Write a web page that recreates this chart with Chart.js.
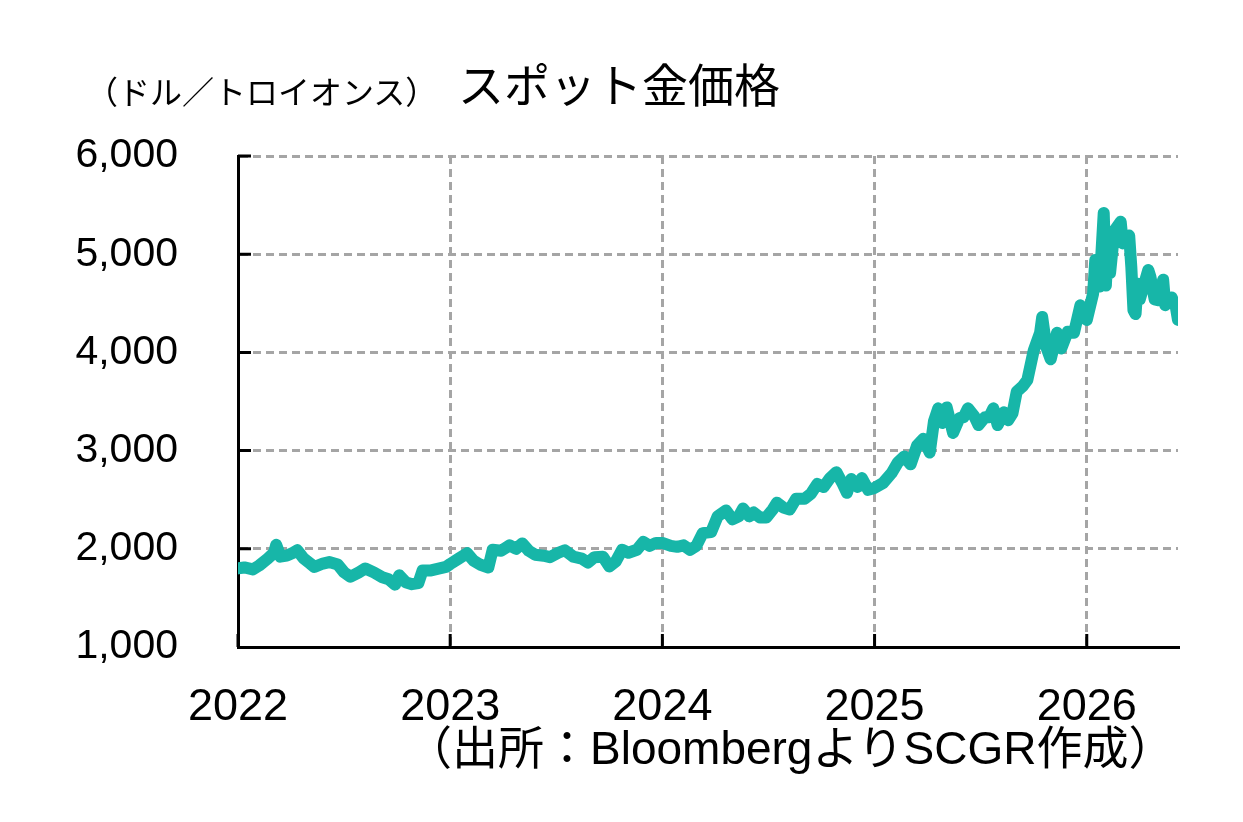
<!DOCTYPE html>
<html>
<head>
<meta charset="utf-8">
<script src="https://cdn.jsdelivr.net/npm/chart.js@4"></script>
<style>
  body { margin: 0; background: #fff; }
  #wrap { position: relative; width: 1243px; height: 822px; }
  .txt { position: absolute; white-space: nowrap; color: #000;
         font-family: "Liberation Sans", "Noto Sans CJK JP", sans-serif; line-height: 1; }
</style>
</head>
<body>
<div id="wrap">
  <canvas id="goldChart" width="1243" height="822"></canvas>
  <div class="txt" style="left:86px; top:77px; font-size:32px;">（ドル／トロイオンス）</div>
  <div class="txt" style="left:458px; top:63px; font-size:46px;">スポット金価格</div>
  <div class="txt" style="left:406px; top:725px; font-size:46px;">（出所：BloombergよりSCGR作成）</div>
</div>
<script>
// time as decimal year, price in USD per troy ounce
var dates = [
  2022.00, 2022.03, 2022.07, 2022.10, 2022.14, 2022.17, 2022.18, 2022.20, 2022.23, 2022.26,
  2022.28, 2022.31, 2022.34, 2022.36, 2022.40, 2022.43, 2022.47, 2022.50, 2022.53, 2022.57,
  2022.60, 2022.64, 2022.68, 2022.71, 2022.74, 2022.76, 2022.79, 2022.82, 2022.85, 2022.87,
  2022.91, 2022.95, 2022.98, 2023.00, 2023.04, 2023.08, 2023.11, 2023.14, 2023.18, 2023.20,
  2023.24, 2023.28, 2023.31, 2023.34, 2023.37, 2023.40, 2023.44, 2023.47, 2023.51, 2023.54,
  2023.58, 2023.62, 2023.65, 2023.68, 2023.72, 2023.75, 2023.78, 2023.81, 2023.84, 2023.88,
  2023.91, 2023.94, 2023.97, 2024.00, 2024.04, 2024.07, 2024.10, 2024.13, 2024.16, 2024.19,
  2024.23, 2024.26, 2024.30, 2024.33, 2024.36, 2024.38, 2024.41, 2024.43, 2024.46, 2024.49,
  2024.52, 2024.54, 2024.57, 2024.60, 2024.63, 2024.67, 2024.70, 2024.73, 2024.76, 2024.79,
  2024.82, 2024.85, 2024.87, 2024.89, 2024.92, 2024.94, 2024.97, 2025.00, 2025.04, 2025.08,
  2025.11, 2025.14, 2025.17, 2025.20, 2025.23, 2025.26, 2025.28, 2025.30, 2025.32, 2025.34,
  2025.37, 2025.40, 2025.42, 2025.44, 2025.47, 2025.49, 2025.52, 2025.54, 2025.56, 2025.58,
  2025.61, 2025.63, 2025.65, 2025.67, 2025.70, 2025.72, 2025.75, 2025.78, 2025.79, 2025.81,
  2025.83, 2025.86, 2025.88, 2025.91, 2025.94, 2025.97, 2026.00, 2026.03, 2026.04, 2026.06,
  2026.08, 2026.09, 2026.10, 2026.11, 2026.13, 2026.16, 2026.17, 2026.20, 2026.21, 2026.22,
  2026.23, 2026.24, 2026.25, 2026.29, 2026.30, 2026.32, 2026.34, 2026.36, 2026.37, 2026.40,
  2026.42, 2026.43
];
var prices = [
  1800, 1810, 1790, 1830, 1900, 1960, 2040, 1920, 1930, 1960,
  1985, 1900, 1850, 1815, 1850, 1865, 1840, 1760, 1715, 1760,
  1800, 1760, 1710, 1690, 1635, 1730, 1660, 1640, 1650, 1780,
  1780, 1800, 1815, 1845, 1900, 1955, 1880, 1840, 1810, 1990,
  1980, 2035, 2000, 2055, 1980, 1940, 1930, 1915, 1960, 1985,
  1920, 1900, 1860, 1915, 1920, 1820, 1870, 1990, 1960, 1990,
  2070, 2030, 2060, 2060, 2030, 2020, 2035, 1990, 2030, 2160,
  2170, 2330, 2390, 2300, 2330, 2410, 2330, 2370, 2320, 2320,
  2400, 2470, 2420, 2400, 2510, 2510, 2560, 2660, 2630, 2720,
  2780, 2660, 2570, 2710, 2630, 2720, 2600, 2620, 2670, 2770,
  2880, 2940, 2860, 3050, 3120, 2980, 3300, 3430, 3280, 3440,
  3180, 3330, 3340, 3430, 3350, 3260, 3340, 3340, 3430, 3260,
  3390, 3310, 3380, 3600, 3660, 3720, 4020, 4200, 4360, 4050,
  3930, 4200, 4040, 4210, 4200, 4480, 4330, 4600, 4940, 4670,
  5420, 4680, 5110, 4810, 5240, 5330, 5110, 5190, 4870, 4430,
  4390, 4700, 4540, 4840, 4770, 4540, 4530, 4740, 4480, 4560,
  4460, 4330
];
var yearTicks = [2022, 2023, 2024, 2025, 2026];

var points = dates.map(function (d, i) { return { x: d, y: prices[i] }; });

// short tick marks drawn inward from the axes
var innerTicks = {
    id: 'innerTicks',
    afterDraw: function (chart) {
        var c = chart.ctx, xs = chart.scales.x, ys = chart.scales.y, a = chart.chartArea;
        c.save();
        c.strokeStyle = '#000';
        c.lineWidth = 3;
        c.beginPath();
        yearTicks.forEach(function (t) {
            var px = xs.getPixelForValue(t);
            c.moveTo(px, a.bottom);
            c.lineTo(px, a.bottom - 13);
        });
        [2000, 3000, 4000, 5000, 6000].forEach(function (v) {
            var py = ys.getPixelForValue(v);
            c.moveTo(a.left, py);
            c.lineTo(a.left + 13, py);
        });
        c.stroke();
        c.restore();
    }
};

var ctx = document.getElementById('goldChart').getContext('2d');
var goldChart = new Chart(ctx, {
    type: 'line',
    data: {
        datasets: [{
            data: points,
            borderColor: 'rgb(23, 182, 168)',
            borderWidth: 12,
            borderJoinStyle: 'round',
            borderCapStyle: 'round',
            pointRadius: 0,
            tension: 0,
            fill: false
        }]
    },
    options: {
        responsive: false,
        animation: false,
        layout: { padding: { left: 0, top: 156, right: 65, bottom: 0 } },
        plugins: { legend: { display: false }, tooltip: { enabled: false } },
        scales: {
            x: {
                type: 'linear',
                min: 2022,
                max: 2026.43,
                afterFit: function (s) { s.height = 175; },
                afterBuildTicks: function (s) { s.ticks = yearTicks.map(function (v) { return { value: v }; }); },
                grid: { color: '#a5a5a5', lineWidth: 3, drawTicks: false },
                border: { display: true, color: '#000', width: 3, dash: [8, 5] },
                ticks: {
                    color: '#000',
                    padding: 34,
                    maxRotation: 0,
                    font: { family: 'Liberation Sans', size: 45 },
                    callback: function (v) { return String(v); }
                }
            },
            y: {
                min: 1000,
                max: 6000,
                afterFit: function (s) { s.width = 238; },
                grid: { color: '#a5a5a5', lineWidth: 3, drawTicks: false },
                border: { display: true, color: '#000', width: 3, dash: [8, 5] },
                ticks: {
                    stepSize: 1000,
                    color: '#000',
                    padding: 60,
                    font: { family: 'Liberation Sans', size: 41 },
                    callback: function (v) { return v.toLocaleString('en-US'); }
                }
            }
        }
    },
    plugins: [innerTicks]
});
</script>
</body>
</html>
